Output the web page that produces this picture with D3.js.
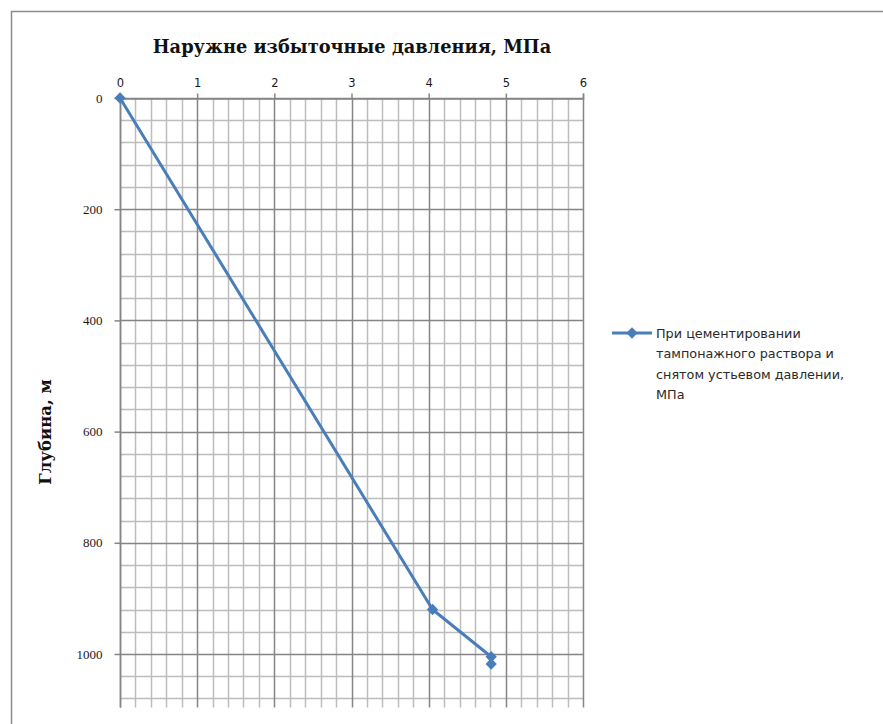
<!DOCTYPE html>
<html>
<head>
<meta charset="utf-8">
<script src="https://cdn.jsdelivr.net/npm/d3@7"></script>
<style>
  html, body { margin: 0; padding: 0; background: #fff; }
  svg { display: block; }
</style>
</head>
<body>
<svg id="chart" width="883" height="724"></svg>
<script>
// Pressure (MPa) against depth (m)
const pressure = [0, 4.05, 4.81, 4.81];
const depth = [0, 920, 1005, 1018];
const xTicks = [0, 1, 2, 3, 4, 5, 6];
const yTicks = [0, 200, 400, 600, 800, 1000];
const seriesName = ["При цементировании", "тампонажного раствора и", "снятом устьевом давлении,", "МПа"];
const chartTitle = "Наружне избыточные давления, МПа";
const yTitle = "Глубина, м";

const svg = d3.select("#chart");
const plotL = 120, plotR = 583, plotT = 98, plotB = 709.6;

const x = d3.scaleLinear().domain([0, 6]).range([plotL, plotR]);
const y = d3.scaleLinear().domain([0, 1100]).range([plotT, plotB]);

// outer chart frame
svg.append("rect")
  .attr("x", 11.5).attr("y", 11.5).attr("width", 900).attr("height", 800)
  .attr("fill", "none").attr("stroke", "#8c8c8c").attr("stroke-width", 1.5);

const grid = svg.append("g");
// minor gridlines
const xMinor = d3.range(0, 6.0001, 0.2).filter(v => Math.abs(v - Math.round(v)) > 1e-6);
const yMinor = d3.range(0, 1100, 40).filter(v => v % 200 !== 0);
grid.selectAll("line.xm").data(xMinor).join("line")
  .attr("x1", d => Math.round(x(d)) + 0.5).attr("x2", d => Math.round(x(d)) + 0.5)
  .attr("y1", plotT).attr("y2", plotB - 2)
  .attr("stroke", "#bdbdbd").attr("stroke-width", 1.5);
grid.selectAll("line.ym").data(yMinor).join("line")
  .attr("y1", d => Math.round(y(d)) + 0.5).attr("y2", d => Math.round(y(d)) + 0.5)
  .attr("x1", plotL).attr("x2", plotR)
  .attr("stroke", "#bdbdbd").attr("stroke-width", 1.5);
// major gridlines
grid.selectAll("line.xM").data(xTicks).join("line")
  .attr("x1", d => Math.round(x(d)) + 0.5).attr("x2", d => Math.round(x(d)) + 0.5)
  .attr("y1", plotT).attr("y2", plotB - 2)
  .attr("stroke", "#858585").attr("stroke-width", 1.5);
grid.selectAll("line.yM").data(yTicks).join("line")
  .attr("y1", d => Math.round(y(d)) + 0.5).attr("y2", d => Math.round(y(d)) + 0.5)
  .attr("x1", plotL).attr("x2", plotR)
  .attr("stroke", "#858585").attr("stroke-width", 1.5);

// top axis (pressure)
const xAxis = svg.append("g")
  .attr("transform", `translate(0,${plotT + 0.5})`)
  .call(d3.axisTop(x).tickValues(xTicks).tickFormat(d3.format("d")).tickSize(5).tickPadding(7));
xAxis.select(".domain").attr("stroke", "#858585").attr("stroke-width", 1.5);
xAxis.selectAll(".tick line").attr("stroke", "#858585").attr("stroke-width", 1.5);
xAxis.selectAll("text").attr("font-family", "'DejaVu Sans', Verdana, sans-serif")
  .attr("font-size", 11.5).attr("fill", "#1a1a1a");

// left axis (depth)
const yAxis = svg.append("g")
  .attr("transform", `translate(${plotL + 0.5},0)`)
  .call(d3.axisLeft(y).tickValues(yTicks).tickFormat(d3.format("d")).tickSize(6).tickPadding(12));
yAxis.select(".domain").attr("stroke", "#858585").attr("stroke-width", 1.5)
  .attr("d", `M0,${plotT}V${plotB - 2}`);
yAxis.selectAll(".tick line").attr("stroke", "#858585").attr("stroke-width", 1.5);
yAxis.selectAll("text").attr("font-family", "'Liberation Serif', 'Times New Roman', serif")
  .attr("font-size", 13).attr("fill", "#1a1a1a");

// titles
svg.append("text")
  .attr("x", 352).attr("y", 53)
  .attr("text-anchor", "middle")
  .attr("font-family", "'DejaVu Serif', Georgia, serif")
  .attr("font-weight", "bold").attr("font-size", 17.8).attr("fill", "#111")
  .text(chartTitle);
svg.append("text")
  .attr("transform", `translate(51,432) rotate(-90)`)
  .attr("text-anchor", "middle")
  .attr("font-family", "'DejaVu Serif', Georgia, serif")
  .attr("font-weight", "bold").attr("font-size", 16.5).attr("fill", "#111")
  .text(yTitle);

// series
const pts = pressure.map((p, i) => [p, depth[i]]);
const color = "#4a7ebb";
svg.append("path")
  .datum(pts)
  .attr("fill", "none").attr("stroke", color).attr("stroke-width", 3)
  .attr("stroke-linejoin", "round")
  .attr("d", d3.line().x(d => x(d[0])).y(d => y(d[1])));
const marker = d3.symbol().type(d3.symbolSquare).size(64);
svg.selectAll("path.mk").data(pts).join("path")
  .attr("transform", d => `translate(${x(d[0])},${y(d[1])}) rotate(45)`)
  .attr("d", marker).attr("fill", color);

// legend
const lg = svg.append("g").attr("transform", "translate(612,333)");
lg.append("line").attr("x1", 0).attr("x2", 40).attr("y1", 0).attr("y2", 0)
  .attr("stroke", color).attr("stroke-width", 3);
lg.append("path").attr("transform", "translate(20,0) rotate(45)").attr("d", marker).attr("fill", color);
lg.selectAll("text").data(seriesName).join("text")
  .attr("x", 44).attr("y", (d, i) => i * 20.5 + 4.5)
  .attr("font-family", "'DejaVu Sans', Verdana, sans-serif")
  .attr("font-size", 12.8).attr("fill", "#2a2a2a")
  .text(d => d);
</script>
</body>
</html>
